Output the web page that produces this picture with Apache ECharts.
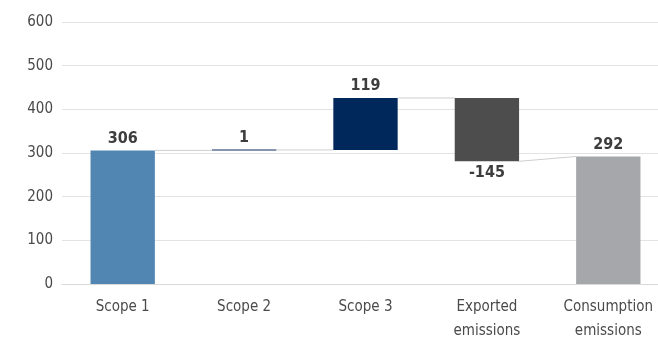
<!DOCTYPE html>
<html>
<head>
<meta charset="utf-8">
<script src="https://cdn.jsdelivr.net/npm/echarts@6/dist/echarts.min.js"></script>
<style>
  html, body { margin: 0; padding: 0; background: #fff; }
  #chart { width: 658px; height: 340px; }
</style>
</head>
<body>
<div id="chart"></div>
<script>
// 排放瀑布图：各范围排放 → 消费排放。

const categories = ["Scope 1", "Scope 2", "Scope 3", "Exported\nemissions", "Consumption\nemissions"];
const values = [306, 1, 119, -145, 292];
const isTotal = [false, false, false, false, true];
const barColors = ["#5286b2", "#102f5e", "#00285a", "#4d4d4d", "#a6a7aa"];
const yTicks = [0, 100, 200, 300, 400, 500, 600];

const FONT = "'DejaVu Sans Condensed', 'Liberation Sans Narrow', Roboto, sans-serif";

// 每根柱子的起点与终点（累计值）。
const starts = [];
const ends = [];
let running = 0;
values.forEach((v, i) => {
  if (isTotal[i]) {
    starts.push(0);
    ends.push(v);
    running = v;
  } else {
    starts.push(running);
    running += v;
    ends.push(running);
  }
});

const baseData = starts.map((s, i) => Math.min(s, ends[i]));
const barData = values.map((v, i) => ({
  value: Math.abs(ends[i] - starts[i]),
  itemStyle: { color: barColors[i] },
  label: { position: v < 0 ? "bottom" : "top", formatter: String(v) },
}));

// 连接线：上一根柱子的终点 → 下一根柱子的起点（合计柱为柱顶）。
const linkData = [];
for (let i = 0; i < values.length - 1; i++) {
  const nextStart = isTotal[i + 1] ? ends[i + 1] : starts[i + 1];
  linkData.push([i, ends[i], nextStart]);
}

const chart = echarts.init(document.getElementById("chart"));
chart.setOption({
  animation: false,
  backgroundColor: "#fff",
  grid: { left: 62, right: -11, top: 22, bottom: 56, containLabel: false, outerBoundsMode: "none" },
  xAxis: {
    type: "category",
    data: categories,
    axisLine: { lineStyle: { color: "#d9d9d9" } },
    axisTick: { show: false },
    axisLabel: { color: "#4a4a4a", fontFamily: FONT, fontSize: 15, margin: 11, lineHeight: 24, interval: 0 },
  },
  yAxis: {
    type: "value",
    min: 0,
    max: yTicks[yTicks.length - 1],
    interval: 100,
    axisLine: { show: false },
    axisTick: { show: false },
    axisLabel: { color: "#4a4a4a", fontFamily: FONT, fontSize: 15, margin: 9 },
    splitLine: { lineStyle: { color: "#e3e3e3" } },
  },
  series: [
    {
      type: "bar",
      stack: "wf",
      barWidth: "53%",
      itemStyle: { color: "transparent" },
      silent: true,
      data: baseData,
    },
    {
      type: "bar",
      stack: "wf",
      barWidth: "53%",
      barMinHeight: 1,
      label: { show: true, color: "#3d3d3d", fontFamily: FONT, fontSize: 16, fontWeight: "bold", distance: 4 },
      data: barData,
    },
    {
      type: "custom",
      silent: true,
      z: 1,
      renderItem: (params, api) => {
        const i = api.value(0);
        const half = api.size([1, 0])[0] * 0.53 / 2;
        const p1 = api.coord([i, api.value(1)]);
        const p2 = api.coord([i + 1, api.value(2)]);
        return {
          type: "line",
          shape: { x1: p1[0] + half, y1: p1[1], x2: p2[0] - half, y2: p2[1] },
          style: { stroke: "#cfcfcf", lineWidth: 1 },
        };
      },
      data: linkData,
    },
  ],
});
</script>
</body>
</html>
